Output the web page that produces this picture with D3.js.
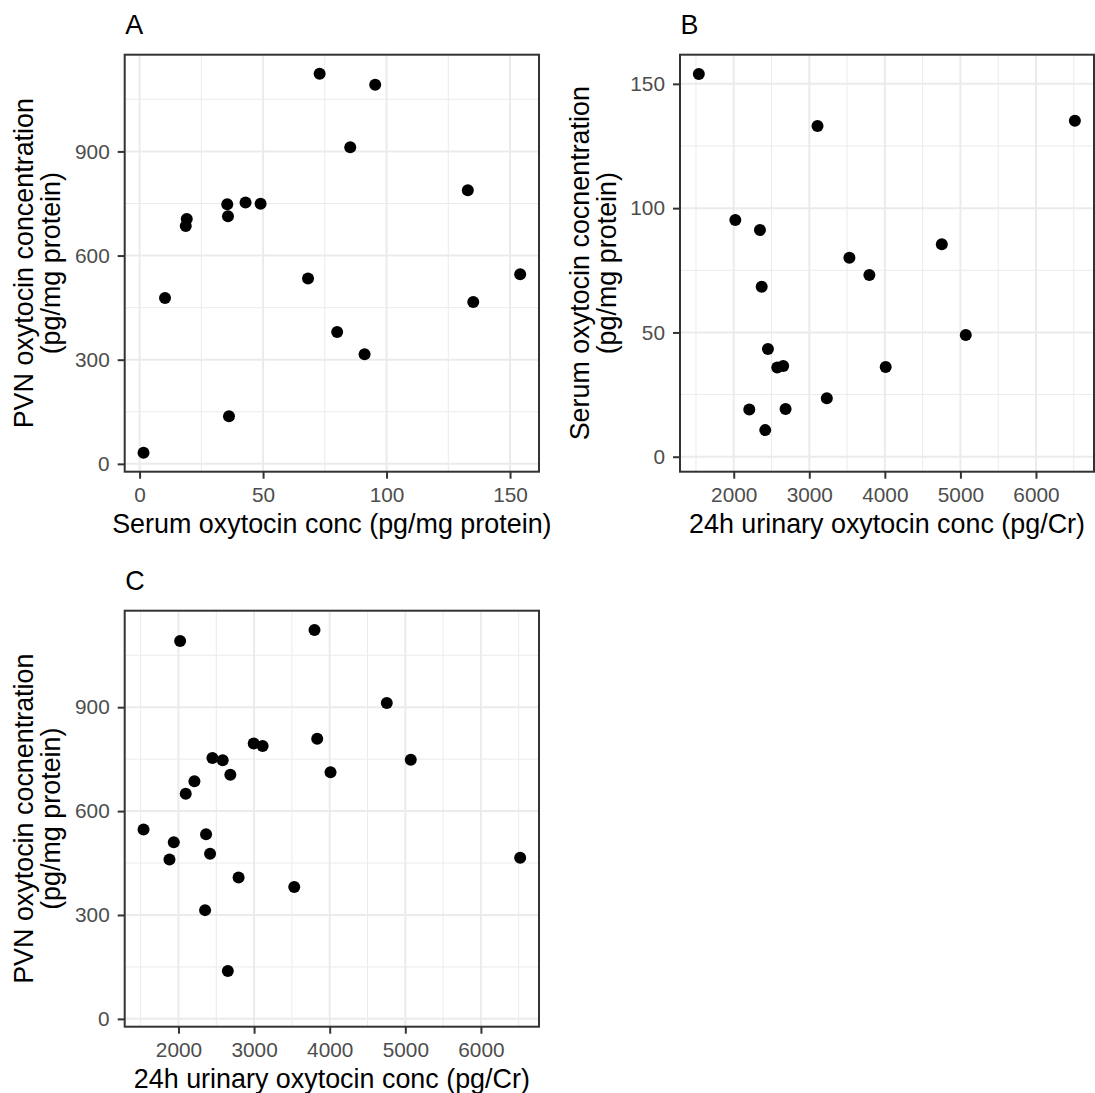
<!DOCTYPE html>
<html>
<head>
<meta charset="utf-8">
<script src="https://cdn.jsdelivr.net/npm/d3@7"></script>
<style>
  html, body { margin: 0; padding: 0; background: #ffffff; }
  svg { display: block; }
  text { font-family: "Liberation Sans", Arial, Helvetica, sans-serif; }
</style>
</head>
<body>
<svg id="chart" width="1095" height="1093"></svg>
<script>
// Panel A: serum oxytocin (x) vs PVN oxytocin (y)
const serumA = [72.9, 95.4, 85.3, 132.9, 35.5, 42.9, 49.0, 35.8, 19.1, 18.7, 68.2, 154.1, 10.3, 135.1, 80.0, 91.1, 36.2, 1.6];
const pvnA   = [1124, 1092, 912, 788, 748, 753, 749, 713, 705, 685, 534, 546, 478, 466, 380, 316, 137, 32];

// Panel B: 24h urinary oxytocin (x) vs serum oxytocin (y)
const urinaryB = [1538, 3109, 6515, 2021, 2347, 4754, 3531, 3795, 2370, 5071, 2453, 2576, 2655, 4011, 3232, 2206, 2686, 2417];
const serumB   = [154.0, 133.0, 135.2, 95.2, 91.2, 85.5, 80.0, 73.1, 68.4, 49.0, 43.3, 35.9, 36.5, 36.1, 23.5, 19.0, 19.2, 10.7];

// Panel C: 24h urinary oxytocin (x) vs PVN oxytocin (y)
const urinaryC = [3799, 2022, 4755, 3835, 2995, 3113, 2449, 2585, 5072, 2686, 4011, 2211, 2096, 1538, 2365, 1938, 1881, 2418, 6519, 2795, 3531, 2352, 2653];
const pvnC     = [1123, 1091, 912, 809, 795, 788, 753, 747, 748, 705, 712, 686, 650, 547, 533, 510, 460, 477, 465, 408, 381, 314, 138];

// Axis breaks
const pvnTicks = [0, 300, 600, 900];
const serumTicks = [0, 50, 100, 150];
const urinaryTicks = [2000, 3000, 4000, 5000, 6000];

// Labels
const panelTags = ["A", "B", "C"];
const xTitles = ["Serum oxytocin conc (pg/mg protein)", "24h urinary oxytocin conc (pg/Cr)", "24h urinary oxytocin conc (pg/Cr)"];
const yTitles = [
  ["PVN oxytocin concentration", "(pg/mg protein)"],
  ["Serum oxytocin cocnentration", "(pg/mg protein)"],
  ["PVN oxytocin cocnentration", "(pg/mg protein)"]
];

// Shared variable ranges, expanded 5% each side
function expanded(values) {
  const [lo, hi] = d3.extent(values);
  const pad = (hi - lo) * 0.05;
  return [lo - pad, hi + pad];
}
const serumDomain = expanded([...serumA, ...serumB]);
const pvnDomain = expanded([...pvnA, ...pvnC]);
const urinaryDomain = expanded([...urinaryB, ...urinaryC]);

const panels = [
  { box: { l: 124.7, t: 54.7, r: 539, b: 471.7 }, xs: serumA, ys: pvnA, xDom: serumDomain, yDom: pvnDomain, xt: serumTicks, yt: pvnTicks },
  { box: { l: 680, t: 54.7, r: 1094, b: 471.7 }, xs: urinaryB, ys: serumB, xDom: urinaryDomain, yDom: serumDomain, xt: urinaryTicks, yt: serumTicks },
  { box: { l: 124.7, t: 610.7, r: 539, b: 1026.7 }, xs: urinaryC, ys: pvnC, xDom: urinaryDomain, yDom: pvnDomain, xt: urinaryTicks, yt: pvnTicks }
];

const svg = d3.select("#chart");
svg.append("rect").attr("width", 1095).attr("height", 1093).attr("fill", "#ffffff");

const tickFont = 20.8, titleFont = 26.9;

function minorBreaks(ticks, dom) {
  const step = ticks[1] - ticks[0];
  const out = [];
  for (let v = ticks[0] - step / 2; v <= ticks[ticks.length - 1] + step; v += step) {
    if (v >= dom[0] && v <= dom[1]) out.push(v);
  }
  return out;
}

panels.forEach((p, i) => {
  const { l, t, r, b } = p.box;
  const x = d3.scaleLinear().domain(p.xDom).range([l, r]);
  const y = d3.scaleLinear().domain(p.yDom).range([b, t]);
  const g = svg.append("g");

  // minor grid
  g.selectAll(null).data(minorBreaks(p.xt, p.xDom)).join("line")
    .attr("x1", d => x(d)).attr("x2", d => x(d)).attr("y1", t).attr("y2", b)
    .attr("stroke", "#ebebeb").attr("stroke-width", 1);
  g.selectAll(null).data(minorBreaks(p.yt, p.yDom)).join("line")
    .attr("y1", d => y(d)).attr("y2", d => y(d)).attr("x1", l).attr("x2", r)
    .attr("stroke", "#ebebeb").attr("stroke-width", 1);
  // major grid
  g.selectAll(null).data(p.xt).join("line")
    .attr("x1", d => x(d)).attr("x2", d => x(d)).attr("y1", t).attr("y2", b)
    .attr("stroke", "#ebebeb").attr("stroke-width", 2);
  g.selectAll(null).data(p.yt).join("line")
    .attr("y1", d => y(d)).attr("y2", d => y(d)).attr("x1", l).attr("x2", r)
    .attr("stroke", "#ebebeb").attr("stroke-width", 2);

  // points
  g.selectAll(null).data(d3.range(p.xs.length)).join("circle")
    .attr("cx", k => x(p.xs[k])).attr("cy", k => y(p.ys[k]))
    .attr("r", 6).attr("fill", "#000000");

  // panel border
  g.append("rect").attr("x", l).attr("y", t).attr("width", r - l).attr("height", b - t)
    .attr("fill", "none").attr("stroke", "#333333").attr("stroke-width", 2);

  // axes
  const xa = g.append("g").attr("transform", `translate(0,${b})`)
    .call(d3.axisBottom(x).tickValues(p.xt).tickFormat(d3.format("d")).tickSize(7).tickPadding(8.3));
  const ya = g.append("g").attr("transform", `translate(${l},0)`)
    .call(d3.axisLeft(y).tickValues(p.yt).tickFormat(d3.format("d")).tickSize(7).tickPadding(8));
  [xa, ya].forEach(a => {
    a.select(".domain").remove();
    a.selectAll(".tick line").attr("stroke", "#333333").attr("stroke-width", 2);
    a.selectAll(".tick text").attr("fill", "#4d4d4d").style("font-size", tickFont + "px")
      .style("font-family", '"Liberation Sans", Arial, Helvetica, sans-serif');
  });
  xa.attr("font-size", null).attr("font-family", null);
  ya.attr("font-size", null).attr("font-family", null);

  // x title
  g.append("text").attr("x", (l + r) / 2).attr("y", b + 61)
    .attr("text-anchor", "middle").style("font-size", titleFont + "px").attr("fill", "#000")
    .text(xTitles[i]);

  // y title (two lines)
  const cy = (t + b) / 2;
  yTitles[i].forEach((line, j) => {
    const bx = l - 91.5 + j * 27;
    g.append("text").attr("transform", `translate(${bx},${cy}) rotate(-90)`)
      .attr("text-anchor", "middle").style("font-size", titleFont + "px").attr("fill", "#000")
      .text(line);
  });

  // panel tag
  g.append("text").attr("x", l + 0.5).attr("y", t - 21)
    .style("font-size", titleFont + "px").attr("fill", "#000")
    .text(panelTags[i]);
});
</script>
</body>
</html>
